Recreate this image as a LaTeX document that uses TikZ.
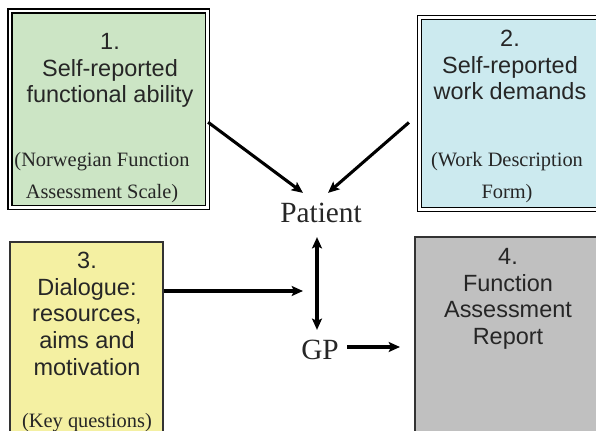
\documentclass[tikz,border=0pt]{standalone}
\usepackage{fontspec}
\setmainfont{Liberation Serif}
\setsansfont{Liberation Sans}
\usetikzlibrary{arrows.meta,positioning,fit,calc}

\definecolor{abilityfill}{HTML}{CCE5C5}
\definecolor{demandsfill}{HTML}{CCEAEF}
\definecolor{dialoguefill}{HTML}{F4F0A2}
\definecolor{reportfill}{HTML}{C0C0C0}
\definecolor{inkgrey}{HTML}{262626}

\begin{document}
\begin{tikzpicture}[
    x=0.75pt, y=-0.75pt,
    dblbox/.style={rectangle, draw=black, line width=0.9pt, double=white, double distance=2pt, inner sep=0pt},
    onebox/.style={rectangle, draw=black!80, line width=1.1pt, inner sep=0pt},
    title/.style={anchor=north, inner sep=0pt, align=center, text=inkgrey, font=\sffamily\fontsize{17.6}{20}\selectfont},
    note/.style={anchor=north, inner sep=0pt, align=center, text=inkgrey, font=\rmfamily\fontsize{15.3}{24}\selectfont},
    actor/.style={inner sep=6pt, text=inkgrey, font=\rmfamily\fontsize{22}{26}\selectfont},
    arrow/.style={-{Stealth[length=8.5pt,width=7.5pt,inset=1.8pt]}, line width=2.3pt},
    dblarrow/.style={{Stealth[length=8.5pt,width=7.5pt,inset=1.8pt]}-{Stealth[length=8.5pt,width=7.5pt,inset=1.8pt]}, line width=2.3pt}
]

\clip (0,0) rectangle (596,431);

% Box 1 - functional ability
\node[dblbox, fill=abilityfill, fit={(10,11) (207.5,207.5)}] (ability) {};
\node[title] (abilitytitle) at (110,33) {1.\\Self-reported\\functional ability};
\node[note] (abilitynote) at (102,152) {(Norwegian Function\\Assessment Scale)};

% Box 2 - work demands
\node[dblbox, fill=demandsfill, fit={(419.5,17.5) (601,209.5)}] (demands) {};
\node[title] (demandstitle) at (510,30) {2.\\Self-reported\\work demands};
\node[note] (demandsnote) at (507,152) {(Work Description\\Form)};

% Box 3 - dialogue
\node[onebox, fill=dialoguefill, fit={(10,242) (163,445)}] (dialogue) {};
\node[title] (dialoguetitle) at (87,252) {3.\\Dialogue:\\resources,\\aims and\\motivation};
\node[note] (dialoguenote) at (87,413) {(Key questions)};

% Box 4 - report
\node[onebox, fill=reportfill, fit={(415,237) (601,445)}] (report) {};
\node[title] (reporttitle) at (508,248) {4.\\Function\\Assessment\\Report};

% Patient and GP
\node[actor] (patient) at (321,213) {Patient};
\node[actor] (gp) at (320,350) {GP};

% Arrows
\coordinate (talk) at (303,291);
\coordinate (handover) at (400,347);
\draw[arrow] ($(ability.east)+(0,13)$) -- ($(patient.north)+(-18,-2)$);
\draw[arrow] ($(demands.west)+(-10,9)$) -- ($(patient.north)+(7,-2)$);
\draw[dblarrow] ($(patient.south)+(-4,6)$) -- ($(gp.north)+(-3,-2)$);
\draw[arrow] (dialogue.east |- talk) -- (talk);
\draw[arrow] (gp.east |- handover) -- (handover);

\end{tikzpicture}
\end{document}
